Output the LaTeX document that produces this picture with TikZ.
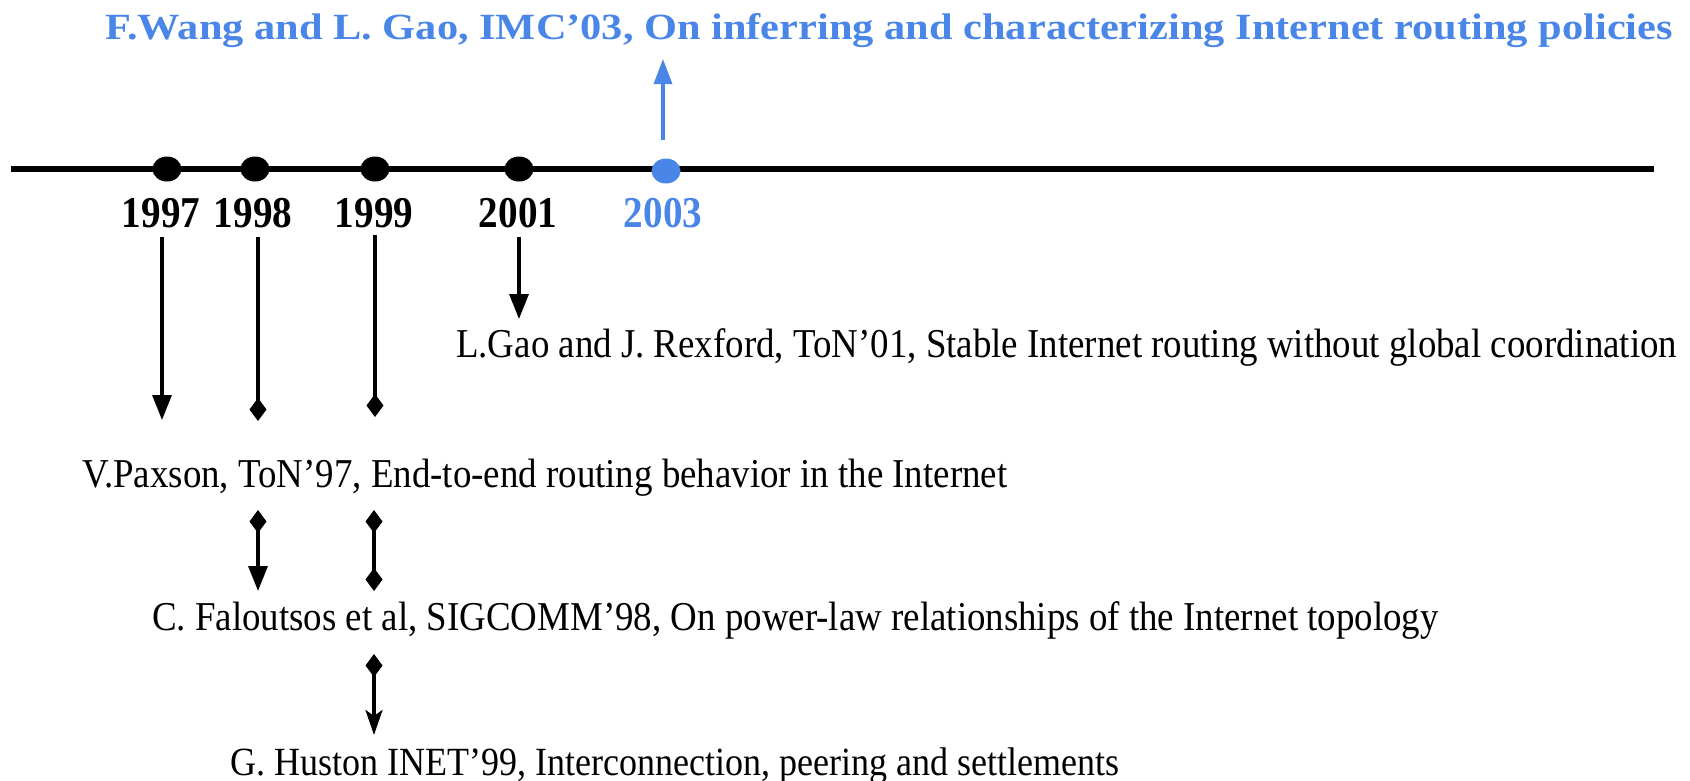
\documentclass[tikz,border=0pt]{standalone}
\usepackage{fontspec}
\setmainfont{Liberation Serif}
\newfontfamily\bodyf[FakeStretch=0.9]{Liberation Serif}
\newfontfamily\yearf[FakeStretch=0.89]{Liberation Serif}
\newfontfamily\titlef[FakeStretch=1.146]{Liberation Serif}
\usetikzlibrary{arrows.meta,shapes.geometric}
\definecolor{tlblue}{RGB}{74,134,232}
\tikzset{
  dot/.style={ellipse,fill=black,inner sep=0pt,minimum width=29pt,minimum height=25pt},
  yearlbl/.style={anchor=base,inner sep=0pt,font=\yearf\fontsize{44}{50}\selectfont\bfseries},
  paper/.style={anchor=base west,inner sep=0pt,font=\bodyf\fontsize{41}{48}\selectfont},
  conn/.style={line width=3.3pt},
  tri/.tip={Triangle[width=19pt,length=25pt]},
  dia/.tip={Diamond[width=17pt,length=23pt]},
  stl/.tip={Stealth[width=17pt,length=25pt,inset=6pt]}
}
\begin{document}
\begin{tikzpicture}[x=1pt,y=-1pt]
\useasboundingbox (0,0) rectangle (1690,780);
% title
\node[anchor=base west,inner sep=0pt,text=tlblue,font=\titlef\fontsize{37}{44}\selectfont\bfseries] (title) at (105,39)
  {F.Wang and L. Gao, IMC’03, On inferring and characterizing Internet routing policies};
% timeline
\coordinate (tlL) at (11,169);
\coordinate (tlR) at (1654,169);
\draw[line width=5.5pt] (tlL) -- (tlR);
\node[dot] (d97) at (167,169) {};
\node[dot] (d98) at (255,169) {};
\node[dot] (d99) at (375,169) {};
\node[dot] (d01) at (519,169) {};
\node[dot,fill=tlblue] (d03) at (666,171) {};
% years
\node[yearlbl] (y97) at (161,227) {1997};
\node[yearlbl] (y98) at (253,227) {1998};
\node[yearlbl] (y99) at (374,227) {1999};
\node[yearlbl] (y01) at (518,227) {2001};
\node[yearlbl,text=tlblue] (y03) at (663,227) {2003};
% papers
\node[paper] (gao) at (456,357) {L.Gao and J. Rexford, ToN’01, Stable Internet routing without global coordination};
\node[paper] (paxson) at (82,487) {V.Paxson, ToN’97, End-to-end routing behavior in the Internet};
\node[paper] (falo) at (152,630) {C. Faloutsos et al, SIGCOMM’98, On power-law relationships of the Internet topology};
\node[paper,font=\bodyf\fontsize{40}{48}\selectfont] (huston) at (230,775) {G. Huston INET’99, Interconnection, peering and settlements};
% connector end points
\coordinate (b03) at (663,140);
\coordinate (t03) at (663,59);
\coordinate (s97) at (162,237);
\coordinate (e97) at (162,420);
\coordinate (s98) at (258,237);
\coordinate (e98) at (258,421);
\coordinate (s99) at (375,235);
\coordinate (e99) at (375,417);
\coordinate (s01) at (519,237);
\coordinate (e01) at (519,319);
\coordinate (s98b) at (258,510);
\coordinate (e98b) at (258,591);
\coordinate (s99b) at (374,510);
\coordinate (e99b) at (374,591);
\coordinate (s99c) at (374,654);
\coordinate (e99c) at (374,735);
% connectors
\draw[conn,draw=tlblue,-{Triangle[width=18pt,length=25pt]},tlblue] (b03) -- (t03);
\draw[conn,-tri] (s97) -- (e97);
\draw[conn,-dia] (s98) -- (e98);
\draw[conn,-dia] (s99) -- (e99);
\draw[conn,-tri] (s01) -- (e01);
\draw[conn,dia-tri] (s98b) -- (e98b);
\draw[conn,dia-dia] (s99b) -- (e99b);
\draw[conn,dia-stl] (s99c) -- (e99c);
\end{tikzpicture}
\end{document}
